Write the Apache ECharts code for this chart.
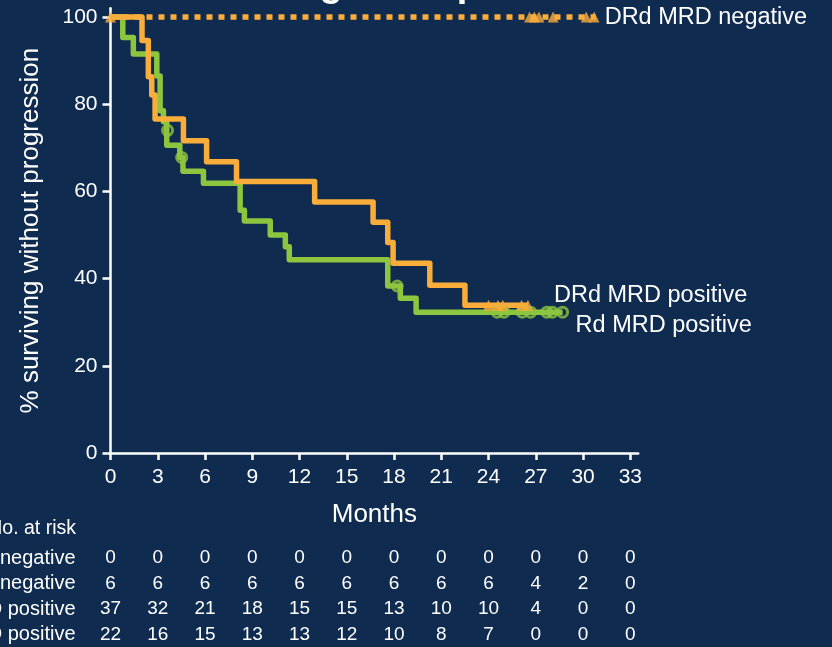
<!DOCTYPE html>
<html>
<head>
<meta charset="utf-8">
<script src="https://cdn.jsdelivr.net/npm/echarts@6/dist/echarts.min.js"></script>
<style>
  html, body { margin: 0; padding: 0; background: #0f2b50; }
  #chart { width: 832px; height: 647px; }
</style>
</head>
<body>
<div id="chart"></div>
<script>
// Kaplan-Meier progression-free survival by treatment arm and MRD status
const BG = '#0f2b50';
const ORANGE = '#fbad3b';
const GREEN = '#8cc63f';
const FONT = 'Liberation Sans, Arial, sans-serif';

const monthTicks = [0, 3, 6, 9, 12, 15, 18, 21, 24, 27, 30, 33];
const pctTicks = [0, 20, 40, 60, 80, 100];

// Survival step curves: [month, % surviving without progression]
const drdNegCurve = [[0, 100], [30.8, 100]];
const drdNegCensor = [[0, 100], [26.6, 100], [26.9, 100], [27.2, 100], [28.1, 100], [30.2, 100], [30.7, 100]];

const drdPosCurve = [[0, 100], [2.0, 94.6], [2.4, 86.3], [2.62, 82.1], [2.83, 76.6], [4.63, 71.6], [6.1, 66.8],
  [8.0, 62.3], [12.96, 57.6], [16.67, 52.9], [17.6, 48.3], [17.94, 43.5], [20.27, 38.5], [22.5, 33.9], [26.5, 33.9]];
const drdPosCensor = [[24.0, 33.9], [24.6, 33.9], [24.9, 33.9], [26.1, 33.9], [26.5, 33.9]];

const rdPosCurve = [[0, 100], [0.78, 95.3], [1.45, 91.5], [2.94, 86.5], [3.15, 78.5], [3.36, 76.0], [3.57, 70.6],
  [4.4, 67.8], [4.6, 64.6], [5.9, 61.9], [8.23, 55.7], [8.5, 53.2], [10.14, 50.0], [11.1, 47.3], [11.35, 44.3],
  [17.6, 38.3], [18.4, 35.5], [19.4, 32.3], [28.7, 32.3]];
const rdPosCensor = [[3.62, 74.0], [4.52, 67.8], [18.2, 38.3], [24.55, 32.3], [24.98, 32.3], [26.14, 32.3],
  [26.67, 32.3], [27.7, 32.3], [28.05, 32.3], [28.7, 32.3]];

// Number at risk table
const riskRows = ['Rd MRD negative', 'DRd MRD negative', 'DRd MRD positive', 'Rd MRD positive'];
const riskRdNeg = [0, 0, 0, 0, 0, 0, 0, 0, 0, 0, 0, 0];
const riskDrdNeg = [6, 6, 6, 6, 6, 6, 6, 6, 6, 4, 2, 0];
const riskDrdPos = [37, 32, 21, 18, 15, 15, 13, 10, 10, 4, 0, 0];
const riskRdPos = [22, 16, 15, 13, 13, 12, 10, 8, 7, 0, 0, 0];

const riskData = [];
[riskRdNeg, riskDrdNeg, riskDrdPos, riskRdPos].forEach((row, r) => {
  row.forEach((n, i) => riskData.push([monthTicks[i], riskRows[r], n]));
});

const white = '#ffffff';
const axisLineStyle = { color: white, width: 2.5 };

const chart = echarts.init(document.getElementById('chart'), null, { renderer: 'canvas' });
chart.setOption({
  backgroundColor: BG,
  animation: false,
  textStyle: { fontFamily: FONT },
  graphic: [
    {
      type: 'text', left: 157, top: -33, silent: true,
      style: { text: 'PFS in high-risk patients', fill: white, font: 'bold 38px ' + FONT }
    },
    {
      type: 'text', right: 832 - 76, top: 519, silent: true,
      style: { text: 'No. at risk', fill: white, font: '19.5px ' + FONT, align: 'right' }
    }
  ],
  grid: [
    { left: 110.5, right: 193.8, top: 8.3, bottom: 194, outerBoundsMode: 'none' },
    { left: 110.5, right: 193.8, top: 545.5, height: 102, outerBoundsMode: 'none' }
  ],
  xAxis: [
    {
      type: 'value', gridIndex: 0, min: 0, max: 33.5,
      axisLine: { show: true, onZero: false, lineStyle: axisLineStyle },
      axisTick: { show: true, length: 7, lineStyle: axisLineStyle, customValues: monthTicks },
      axisLabel: { customValues: monthTicks, color: white, fontSize: 21, margin: 14, fontFamily: FONT },
      splitLine: { show: false },
      name: 'Months', nameLocation: 'middle', nameGap: 49,
      nameTextStyle: { color: white, fontSize: 26, fontFamily: FONT }
    },
    { type: 'value', gridIndex: 1, min: 0, max: 33.5, show: false }
  ],
  yAxis: [
    {
      type: 'value', gridIndex: 0, min: 0, max: 102,
      axisLine: { show: true, onZero: false, lineStyle: axisLineStyle },
      axisTick: { show: true, length: 8, lineStyle: axisLineStyle, customValues: pctTicks },
      axisLabel: { customValues: pctTicks, color: white, fontSize: 21, margin: 13, fontFamily: FONT },
      splitLine: { show: false },
      name: '% surviving without progression', nameLocation: 'middle', nameRotate: 90, nameGap: 67,
      nameTextStyle: { color: white, fontSize: 26, fontFamily: FONT }
    },
    {
      type: 'category', gridIndex: 1, data: riskRows, inverse: true,
      axisLine: { show: false }, axisTick: { show: false }, splitLine: { show: false },
      axisLabel: { interval: 0, color: white, fontSize: 20, margin: 35, fontFamily: FONT }
    }
  ],
  series: [
    {
      name: 'DRd MRD negative', type: 'line', step: 'end', data: drdNegCurve, symbol: 'none', z: 2,
      lineStyle: { color: ORANGE, width: 5.5, type: [6, 6], cap: 'butt' },
      endLabel: { show: true, formatter: '{a}', color: white, fontSize: 23.5, distance: 9, fontFamily: FONT }
    },
    {
      name: 'Rd MRD positive', type: 'line', step: 'end', data: rdPosCurve, symbol: 'none', z: 3,
      lineStyle: { color: GREEN, width: 5.5, join: 'round' },
      endLabel: { show: true, formatter: '{a}', color: white, fontSize: 23.5, distance: 8, offset: [5, 13], fontFamily: FONT }
    },
    {
      name: 'DRd MRD positive', type: 'line', step: 'end', data: drdPosCurve, symbol: 'none', z: 4,
      lineStyle: { color: ORANGE, width: 5.5, join: 'round' },
      endLabel: { show: true, formatter: '{a}', color: white, fontSize: 23.5, distance: 8, offset: [18, -10], fontFamily: FONT }
    },
    {
      name: 'Rd MRD positive censored', type: 'scatter', data: rdPosCensor, symbol: 'circle', symbolSize: 10, z: 5,
      itemStyle: { color: 'rgba(0,0,0,0)', borderColor: GREEN, borderWidth: 3 }
    },
    {
      name: 'DRd MRD positive censored', type: 'scatter', data: drdPosCensor, symbol: 'triangle', symbolSize: 11, z: 6,
      itemStyle: { color: ORANGE }
    },
    {
      name: 'DRd MRD negative censored', type: 'scatter', data: drdNegCensor, symbol: 'triangle', symbolSize: 11, z: 6,
      itemStyle: { color: ORANGE }
    },
    {
      name: 'At risk', type: 'scatter', xAxisIndex: 1, yAxisIndex: 1, data: riskData,
      symbolSize: 1, itemStyle: { color: 'rgba(0,0,0,0)' }, silent: true,
      label: {
        show: true, position: 'inside', formatter: p => String(p.value[2]),
        color: white, opacity: 1, textBorderWidth: 0, fontSize: 19, fontFamily: FONT
      }
    }
  ]
});
</script>
</body>
</html>
